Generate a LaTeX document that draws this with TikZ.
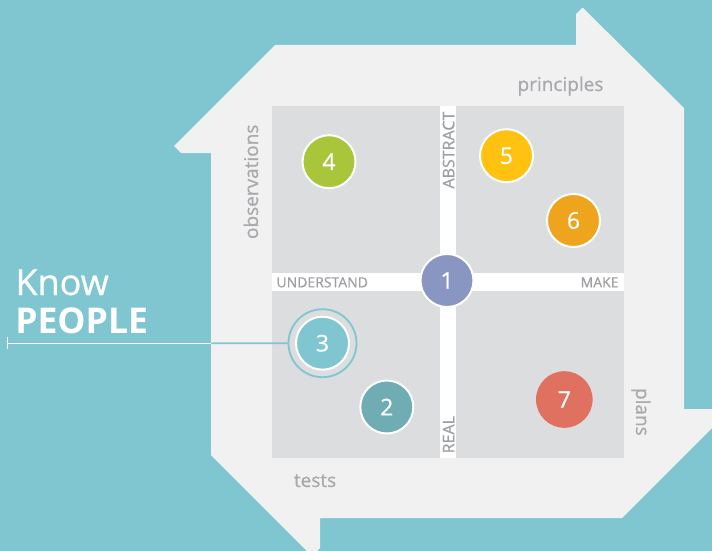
\documentclass[tikz,border=0pt]{standalone}
\usepackage{fontspec}
\setmainfont{Open Sans}[FakeBold=0.7, BoldFeatures={FakeBold=0}]
\definecolor{bgteal}{HTML}{7FC6D0}
\definecolor{shapegray}{HTML}{F1F1F1}
\definecolor{quadgray}{HTML}{DCDDDF}
\definecolor{labelgray}{HTML}{A7A9AC}
\definecolor{axisgray}{HTML}{9D9FA2}
\definecolor{cone}{HTML}{8A96C2}
\definecolor{ctwo}{HTML}{6FACB4}
\definecolor{cthree}{HTML}{7FC6D0}
\definecolor{cfour}{HTML}{A9C53A}
\definecolor{cfive}{HTML}{FFC211}
\definecolor{csix}{HTML}{EEA41C}
\definecolor{cseven}{HTML}{E0705F}
\begin{document}
\begin{tikzpicture}[x=1pt,y=-1pt,
  every node/.style={inner sep=0pt, outer sep=0pt},
  lbl/.style={text=labelgray, font=\fontsize{19}{19}\selectfont},
  axislbl/.style={text=axisgray, font=\fontsize{14}{14}\selectfont},
  vaxislbl/.style={text=axisgray, font=\fontsize{16}{16}\selectfont},
  ball/.style={circle, draw=white, line width=2pt, minimum size=53pt, text=white, font=\fontsize{23}{23}\selectfont},
  bigtext/.style={text=white, anchor=base west}]
\useasboundingbox (0,0) rectangle (712,551);
\clip (0,0) rectangle (712,551);
\fill[bgteal] (0,0) rectangle (712,551);
\fill[shapegray] (275,45) -- (576,45) -- (576,14) -- (582,8) -- (583,8) -- (684,108) -- (684,409) -- (720,409) -- (720,420) -- (622,518) -- (320,518) -- (320,548) -- (314,554) -- (310,554) -- (211,455) -- (211,153) -- (181,153) -- (174,146) -- cycle;
\fill[quadgray] (272,106) rectangle (624,458);
\fill[white] (440,106) rectangle (456,458);
\fill[white] (272,273) rectangle (624,291);
% outer labels
\node[lbl, anchor=base] (principles) at (560.5,91) {principles};
\node[lbl, anchor=base west] (tests) at (294,487) {tests};
\node[lbl, anchor=base west, rotate=90] (observations) at (258,239) {observations};
\node[lbl, anchor=base west, rotate=-90] (plans) at (636,388) {plans};
% axis labels
\node[axislbl, anchor=base west] (understand) at (276.5,287.3) {UNDERSTAND};
\node[axislbl, anchor=base east] (make) at (618.5,287.3) {MAKE};
\node[vaxislbl, anchor=base west, rotate=90] (abstract) at (454.3,188.5) {ABSTRACT};
\node[vaxislbl, anchor=base west, rotate=90] (real) at (454.3,453.3) {REAL};
% Know PEOPLE
\node[bigtext, font=\fontsize{36}{36}\selectfont] (know) at (15.5,295) {Know};
\node[bigtext, font=\fontsize{35.5}{35.5}\selectfont\bfseries] (people) at (15.3,333.3) {PEOPLE};
% circles
\node[ball, fill=cone] (n1) at (447,280.5) {1};
\node[ball, fill=cfour] (n4) at (329,161.7) {4};
\node[ball, fill=cfive] (n5) at (506.5,155.7) {5};
\node[ball, fill=csix] (n6) at (573.5,220.5) {6};
\node[ball, fill=cthree] (n3) at (322.5,343.2) {3};
\node[ball, fill=ctwo] (n2) at (386.8,407) {2};
\node[ball, fill=cseven, draw=none, minimum size=56.6pt] (n7) at (564.3,399.5) {7};
\node[circle, draw=cthree, line width=1.8pt, minimum size=68pt] (ring3) at (n3) {};
% pointer line
\coordinate (tick) at (7.3,343.3);
\coordinate (edge) at (211,343.3);
\draw[white, line width=1.6pt] (tick) -- (edge);
\draw[cthree, line width=1.6pt] (edge) -- (ring3.west);
\draw[white, line width=1.6pt] ([yshift=6pt]tick) -- ([yshift=-6pt]tick);
\end{tikzpicture}
\end{document}
